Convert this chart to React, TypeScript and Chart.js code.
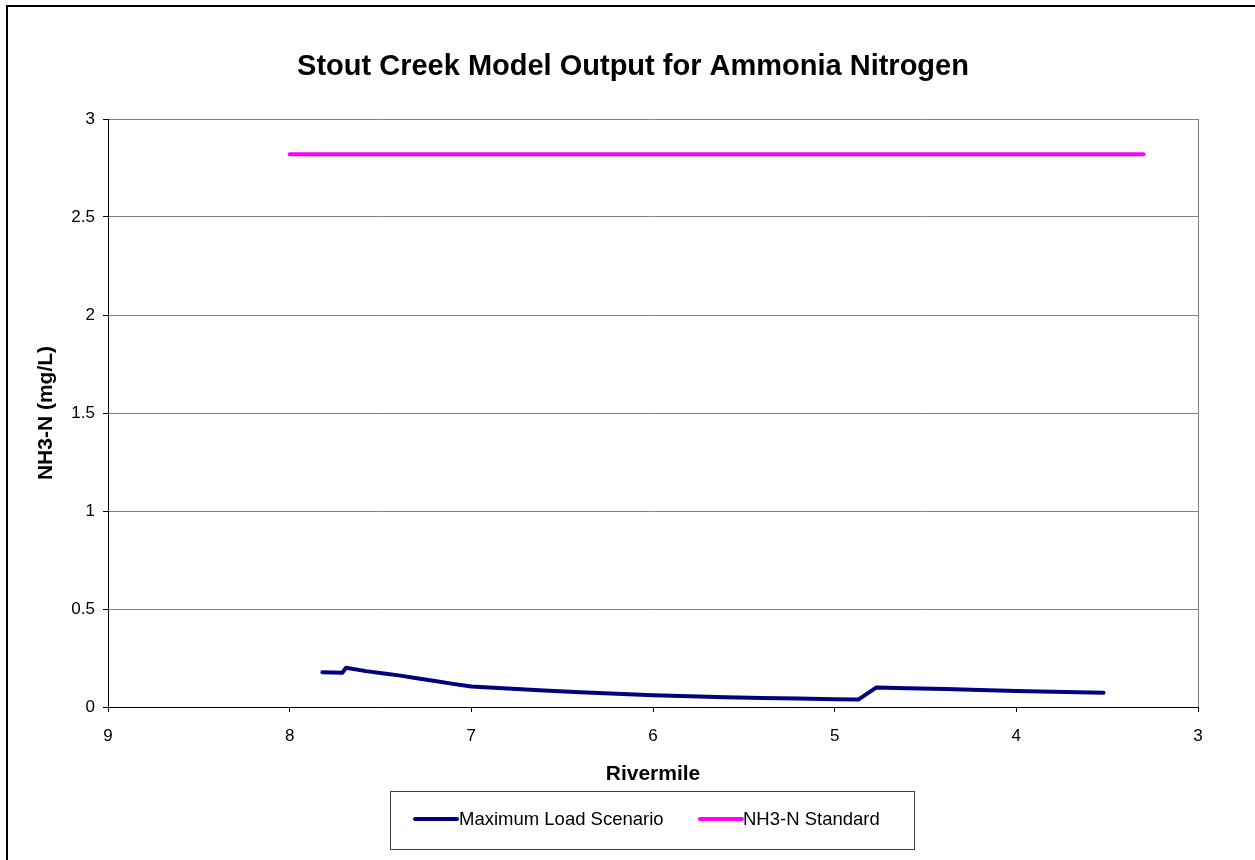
import React, { useEffect, useRef } from "react";
import { Chart, registerables } from "chart.js";

Chart.register(...registerables);

const FONT = "'Liberation Sans', Arial, Helvetica, sans-serif";

const chartTitle = "Stout Creek Model Output for Ammonia Nitrogen";

// Maximum Load Scenario (rivermile, NH3-N mg/L)
const loadRivermile = [7.82, 7.71, 7.69, 7.58, 7.48, 7.39, 7.3, 7.2, 7.1, 7.0, 6.8, 6.6, 6.4, 6.2, 6.0, 5.8, 5.6, 5.4, 5.2, 5.0, 4.87, 4.77, 4.6, 4.39, 4.2, 4.0, 3.8, 3.52];
const loadValues = [0.177, 0.175, 0.2, 0.183, 0.171, 0.16, 0.147, 0.133, 0.118, 0.105, 0.094, 0.084, 0.075, 0.067, 0.06, 0.055, 0.05, 0.046, 0.043, 0.04, 0.038, 0.1, 0.096, 0.092, 0.087, 0.082, 0.078, 0.073];

// NH3-N Standard
const standardRivermile = [8.0, 3.3];
const standardValues = [2.82, 2.82];

const xTickValues = [9, 8, 7, 6, 5, 4, 3];
const yTickValues = [0, 0.5, 1, 1.5, 2, 2.5, 3];

const seriesLabels = ["Maximum Load Scenario", "NH3-N Standard"];
const seriesColors = ["#000080", "#FF00FF"];

const decorPlugin = {
  id: "decor",
  beforeDatasetsDraw(chart: any) {
    const { ctx, chartArea } = chart;
    ctx.save();
    ctx.strokeStyle = "#808080";
    ctx.lineWidth = 1;
    ctx.beginPath();
    ctx.moveTo(Math.round(chartArea.right) + 0.5, chartArea.top);
    ctx.lineTo(Math.round(chartArea.right) + 0.5, chartArea.bottom);
    ctx.stroke();
    ctx.restore();
  },
  afterDraw(chart: any) {
    const { ctx } = chart;
    ctx.save();
    // title
    ctx.fillStyle = "#000";
    ctx.font = `bold 29px ${FONT}`;
    ctx.textAlign = "center";
    ctx.textBaseline = "middle";
    ctx.fillText(chartTitle, 633, 67);
    // outer frame
    ctx.strokeStyle = "#000";
    ctx.lineWidth = 2;
    ctx.strokeRect(7, 6, 3000, 3000);
    // legend box
    ctx.strokeStyle = "#404040";
    ctx.lineWidth = 1;
    ctx.strokeRect(390.5, 791.5, 524, 58);
    const items = [
      { x0: 415, x1: 457, tx: 459 },
      { x0: 700, x1: 742, tx: 743 },
    ];
    ctx.font = `18.5px ${FONT}`;
    ctx.textBaseline = "middle";
    ctx.textAlign = "left";
    chart.data.datasets.forEach((ds: any, i: number) => {
      const it = items[i];
      const y = 819;
      ctx.strokeStyle = ds.borderColor;
      ctx.lineWidth = 4;
      ctx.lineCap = "round";
      ctx.beginPath();
      ctx.moveTo(it.x0, y);
      ctx.lineTo(it.x1, y);
      ctx.stroke();
      ctx.fillStyle = "#000";
      ctx.fillText(ds.label, it.tx, y + 1);
    });
    ctx.restore();
  },
};

export default function App() {
  const ref = useRef<HTMLCanvasElement | null>(null);

  useEffect(() => {
    if (!ref.current) return;
    const chart = new Chart(ref.current, {
      type: "line",
      data: {
        datasets: [
          {
            label: seriesLabels[0],
            data: loadRivermile.map((x, i) => ({ x, y: loadValues[i] })),
            borderColor: seriesColors[0],
            backgroundColor: seriesColors[0],
            borderWidth: 4,
            pointRadius: 0,
            tension: 0,
            borderCapStyle: "round",
            borderJoinStyle: "round",
          },
          {
            label: seriesLabels[1],
            data: standardRivermile.map((x, i) => ({ x, y: standardValues[i] })),
            borderColor: seriesColors[1],
            backgroundColor: seriesColors[1],
            borderWidth: 4,
            pointRadius: 0,
            tension: 0,
            borderCapStyle: "round",
          },
        ],
      },
      options: {
        animation: false,
        responsive: false,
        devicePixelRatio: 1,
        layout: { padding: { left: 0, right: 57, top: 119, bottom: 0 } },
        plugins: {
          legend: { display: false },
          tooltip: { enabled: false },
          title: { display: false },
        },
        scales: {
          x: {
            type: "linear",
            min: 3,
            max: 9,
            reverse: true,
            afterFit: (s: any) => {
              s.height = 153;
            },
            afterBuildTicks: (s: any) => {
              s.ticks = xTickValues.map((v) => ({ value: v }));
            },
            ticks: {
              color: "#000",
              font: { family: FONT, size: 17 },
              padding: 14,
              maxRotation: 0,
              autoSkip: false,
              callback: (v: any) => String(v),
            },
            grid: {
              drawOnChartArea: false,
              drawTicks: true,
              tickLength: 5,
              tickColor: "#000",
            },
            border: { color: "#000", width: 1 },
            title: {
              display: true,
              text: "Rivermile",
              color: "#000",
              font: { family: FONT, size: 21, weight: "bold", lineHeight: 1.2 },
              padding: { top: 0, bottom: 73 },
            },
          },
          y: {
            type: "linear",
            min: 0,
            max: 3,
            afterFit: (s: any) => {
              s.width = 108;
            },
            afterBuildTicks: (s: any) => {
              s.ticks = yTickValues.map((v) => ({ value: v }));
            },
            ticks: {
              color: "#000",
              font: { family: FONT, size: 17 },
              padding: 8,
              autoSkip: false,
              callback: (v: any) => String(v),
            },
            grid: {
              color: "#808080",
              lineWidth: 1,
              drawTicks: true,
              tickLength: 5,
              tickColor: "#000",
            },
            border: { color: "#000", width: 1 },
            title: {
              display: true,
              text: "NH3-N (mg/L)",
              color: "#000",
              font: { family: FONT, size: 21, weight: "bold", lineHeight: 1.2 },
              padding: { top: 34, bottom: 0 },
            },
          },
        },
      },
      plugins: [decorPlugin],
    } as any);
    return () => chart.destroy();
  }, []);

  return (
    <div style={{ position: "fixed", left: 0, top: 0, width: 1255, height: 860, background: "#fff" }}>
      <canvas ref={ref} width={1255} height={860} style={{ width: 1255, height: 860, display: "block" }} />
    </div>
  );
}
